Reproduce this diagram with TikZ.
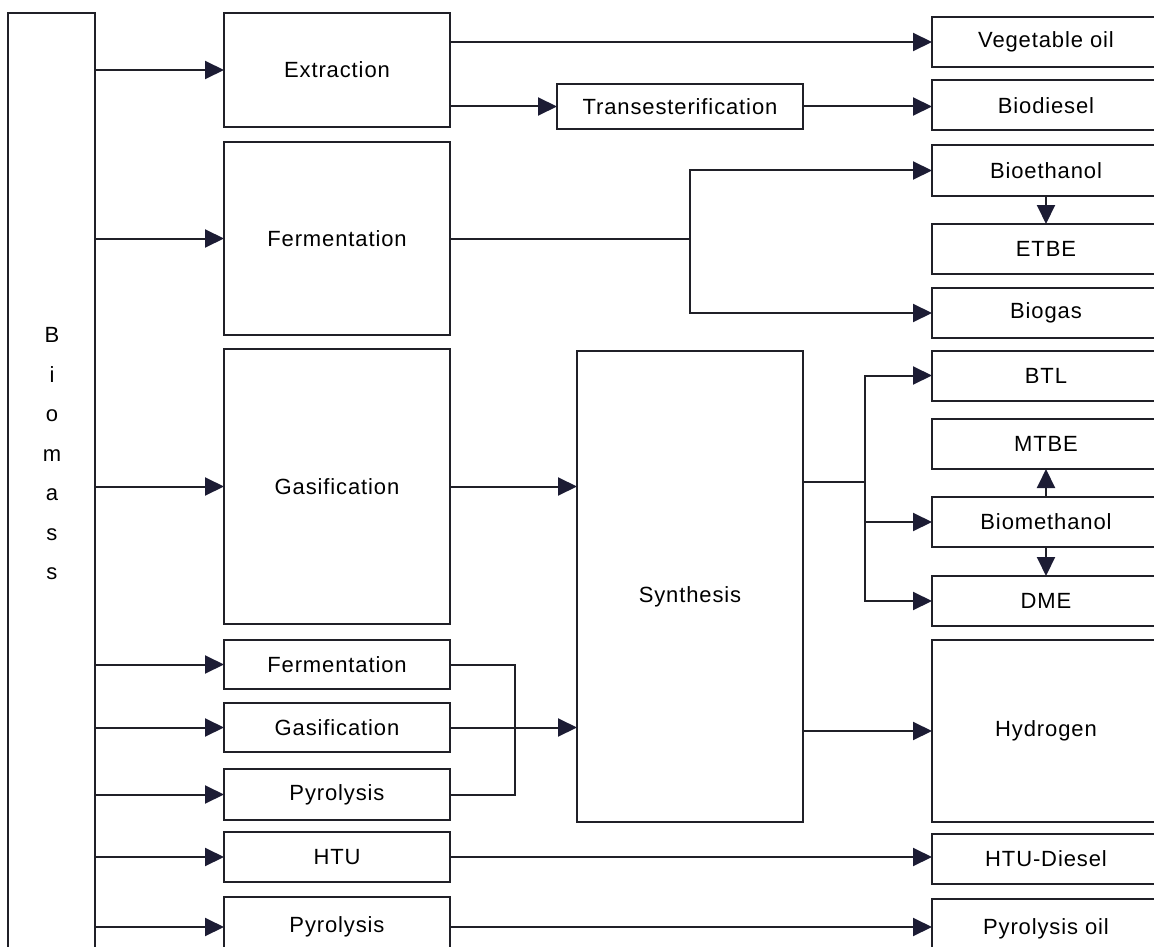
\documentclass[tikz,border=0pt]{standalone}
\usepackage{fontspec}
\setmainfont[LetterSpace=4]{Liberation Sans}
\usetikzlibrary{arrows.meta,calc}
\definecolor{inkline}{RGB}{32,32,40}
\definecolor{inktip}{RGB}{28,28,52}
\tikzset{
  stage/.style   = {shape=rectangle, draw=inkline, line width=2pt,
                    inner sep=0pt, outer sep=0pt, anchor=center,
                    font=\fontsize{22}{26}\selectfont},
  feed/.style    = {stage, minimum width=226pt},
  product/.style = {stage, minimum width=228pt, minimum height=50pt},
  flow/.style    = {draw=inkline, line width=2pt,
                    -{Triangle[length=19pt,width=18pt,color=inktip,fill=inktip]}},
  pipe/.style    = {draw=inkline, line width=2pt}
}

\begin{document}
\begin{tikzpicture}[x=1pt,y=-1pt]
  \useasboundingbox (0,0) rectangle (1154,947);
  \clip (0,0) rectangle (1154,947);

  % source
  \node[stage, minimum width=87pt, minimum height=987pt] (biomass) at (51.5,506.5) {};
  \node[font=\fontsize{22}{39.5}\selectfont, align=center] (biomasstxt) at (52,454)
    {B\\i\\o\\m\\a\\s\\s};

  % processes
  \node[feed, minimum height=114pt] (extract) at (337,70)    {Extraction};
  \node[feed, minimum height=193pt] (ferment) at (337,238.5) {Fermentation};
  \node[feed, minimum height=275pt] (gasify)  at (337,486.5) {Gasification};
  \node[feed, minimum height=49pt]  (ferm2)   at (337,664.5) {Fermentation};
  \node[feed, minimum height=49pt]  (gasif2)  at (337,727.5) {Gasification};
  \node[feed, minimum height=51pt]  (pyro1)   at (337,794.5) {Pyrolysis};
  \node[feed, minimum height=50pt]  (htu)     at (337,857)   {HTU};
  \node[feed, minimum height=60pt]  (pyro2)   at (337,927)   {Pyrolysis};

  \node[stage, minimum width=246pt, minimum height=45pt]  (transest) at (680,106.5) {Transesterification};
  \node[stage, minimum width=226pt, minimum height=471pt, text height=36pt] (synth) at (690,586.5) {Synthesis};

  % products
  \node[product] (vegoil)  at (1046,42)    {Vegetable oil};
  \node[product] (biodsl)  at (1046,105.5) {Biodiesel};
  \node[product] (bioeth)  at (1046,170.5) {Bioethanol};
  \node[product] (etbe)    at (1046,249)   {ETBE};
  \node[product] (biogas)  at (1046,313)   {Biogas};
  \node[product] (btl)     at (1046,375.5) {BTL};
  \node[product] (mtbe)    at (1046,444)   {MTBE};
  \node[product] (biometh) at (1046,522)   {Biomethanol};
  \node[product] (dme)     at (1046,601)   {DME};
  \node[product, minimum height=182pt] (hydro) at (1046,731) {Hydrogen};
  \node[product] (htudsl)  at (1046,858.5) {HTU-Diesel};
  \node[product, minimum height=60pt] (pyroil) at (1046,929) {Pyrolysis oil};

  \coordinate (fsplit) at (690,238.5);
  \coordinate (ssplit) at (865,482);
  \coordinate (mjoin)  at (515,727.5);

  % biomass to processes
  \foreach \p in {extract,ferment,gasify,ferm2,gasif2,pyro1,htu,pyro2}
    \draw[flow] (biomass.east |- \p.west) -- (\p.west);

  % extraction
  \draw[flow] (extract.east |- vegoil.west) -- (vegoil.west);
  \draw[flow] (extract.east |- transest.west) -- (transest.west);
  \draw[flow] (transest.east) -- (biodsl.west |- transest.east);

  % fermentation
  \draw[pipe] (ferment.east) -- (fsplit);
  \draw[flow] (fsplit) |- (bioeth.west);
  \draw[flow] (fsplit) |- (biogas.west);
  \draw[flow] (bioeth.south) -- (etbe.north);

  % gasification and synthesis
  \draw[flow] (gasify.east) -- (synth.west |- gasify.east);
  \draw[pipe] (ferm2.east) -| (mjoin) |- (pyro1.east);
  \draw[flow] (gasif2.east) -- (synth.west |- gasif2.east);
  \draw[pipe] (synth.east |- ssplit) -- (ssplit);
  \draw[flow] (ssplit) |- (btl.west);
  \draw[flow] (ssplit) |- (biometh.west);
  \draw[flow] (ssplit) |- (dme.west);
  \draw[flow] (biometh.north) -- (mtbe.south);
  \draw[flow] (biometh.south) -- (dme.north);
  \draw[flow] (synth.east |- hydro.west) -- (hydro.west);

  % direct routes
  \draw[flow] (htu.east) -- (htudsl.west |- htu.east);
  \draw[flow] (pyro2.east) -- (pyroil.west |- pyro2.east);
\end{tikzpicture}
\end{document}
